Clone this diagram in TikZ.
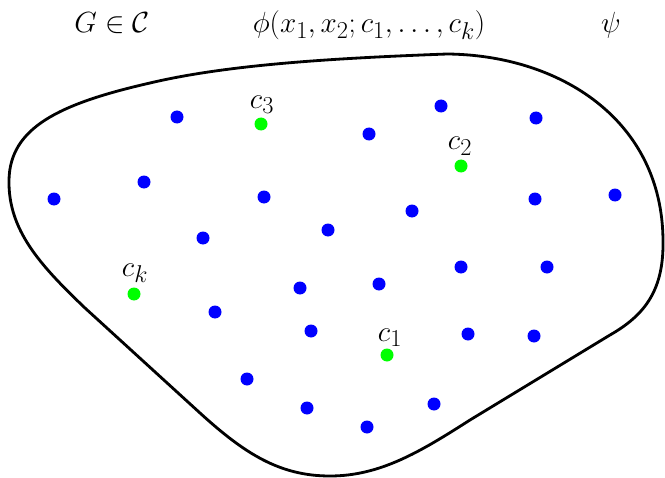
\documentclass[tikz,border=0pt]{standalone}
\begin{document}
\begin{tikzpicture}[x=0.03cm,y=-0.03cm,
  bdot/.style={circle,fill=blue,inner sep=0pt,minimum size=0.39cm},
  gdot/.style={circle,fill=green,inner sep=0pt,minimum size=0.39cm},
  lab/.style={anchor=base,inner sep=0pt,font=\Huge},
  title/.style={anchor=base,inner sep=0pt,font=\Huge},
  blob/.style={line width=2.4pt,line join=round}]
\useasboundingbox (0,0) rectangle (665,478);
% titles
\node[title] (tG) at (112,33) {$G\in\mathcal{C}$};
\node[title] (tphi) at (369,33) {$\phi(x_1,x_2;c_1,\ldots,c_k)$};
\node[title] (tpsi) at (611,33) {$\psi$};
% outline
\draw[blob] (9,180) .. controls (10,128) and (58,104) .. (150,83)
  .. controls (230,64) and (340,58) .. (447,54)
  .. controls (560,55) and (662,120) .. (663,240)
  .. controls (664,290) and (645,315) .. (610,335)
  -- (470,420)
  .. controls (420,452) and (380,476) .. (330,476)
  .. controls (280,476) and (245,454) .. (200,413)
  -- (85,308)
  .. controls (40,265) and (8,230) .. cycle;
% blue dots
\node[bdot] (b1) at (177,117) {};
\node[bdot] (b2) at (369,134) {};
\node[bdot] (b3) at (441,106) {};
\node[bdot] (b4) at (536,118) {};
\node[bdot] (b5) at (54,199) {};
\node[bdot] (b6) at (144,182) {};
\node[bdot] (b7) at (264,197) {};
\node[bdot] (b8) at (412,211) {};
\node[bdot] (b9) at (535,199) {};
\node[bdot] (b10) at (615,195) {};
\node[bdot] (b11) at (203,238) {};
\node[bdot] (b12) at (328,230) {};
\node[bdot] (b13) at (461,267) {};
\node[bdot] (b14) at (547,267) {};
\node[bdot] (b15) at (300,288) {};
\node[bdot] (b16) at (379,284) {};
\node[bdot] (b17) at (215,312) {};
\node[bdot] (b18) at (311,331) {};
\node[bdot] (b19) at (468,334) {};
\node[bdot] (b20) at (534,336) {};
\node[bdot] (b21) at (247,379) {};
\node[bdot] (b22) at (307,408) {};
\node[bdot] (b23) at (367,427) {};
\node[bdot] (b24) at (434,404) {};
% green dots with labels
\node[gdot] (c3) at (261,124) {};
\node[gdot] (c2) at (461,166) {};
\node[gdot] (ck) at (134,294) {};
\node[gdot] (c1) at (387,355) {};
\node[lab] (lc3) at (262,108) {$c_3$};
\node[lab] (lc2) at (460,150) {$c_2$};
\node[lab] (lck) at (135,276) {$c_k$};
\node[lab] (lc1) at (390,341) {$c_1$};
\end{tikzpicture}
\end{document}
